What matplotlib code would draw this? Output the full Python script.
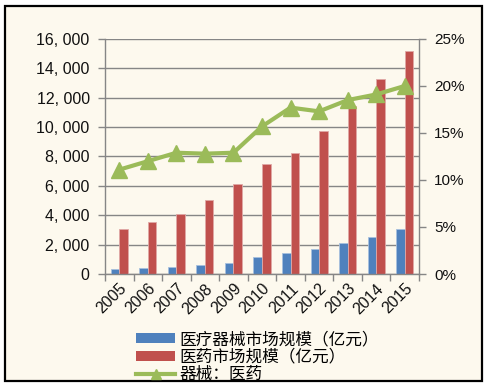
import matplotlib
matplotlib.use("Agg")
import matplotlib.pyplot as plt
from matplotlib.patches import Rectangle, Patch
from matplotlib.lines import Line2D
from matplotlib.ticker import FuncFormatter, FixedLocator
import numpy as np

plt.rcParams['font.family'] = ['Liberation Sans', 'Noto Sans CJK SC', 'DejaVu Sans']

years = ['2005', '2006', '2007', '2008', '2009', '2010', '2011', '2012', '2013', '2014', '2015']
device_market = [330, 400, 510, 620, 780, 1170, 1450, 1670, 2110, 2530, 3040]
pharma_market = [3080, 3520, 4060, 5040, 6130, 7490, 8220, 9740, 11440, 13300, 15180]
ratio_pct = [11.1, 12.0, 12.9, 12.8, 12.9, 15.7, 17.7, 17.3, 18.5, 19.1, 20.0]

label_device = '医疗器械市场规模（亿元）'
label_pharma = '医药市场规模（亿元）'
label_ratio = '器械：医药'

C_BLUE = '#4F81BD'
C_RED = '#C0504D'
C_GREEN = '#9BBB59'
BG = '#FDF9EE'
GRID = '#868686'
TXT = '#111111'

fig = plt.figure(figsize=(4.84, 3.86), dpi=100)
fig.patch.set_facecolor('white')
frame = Rectangle((5/484, 1-381/386), 477/484, 375/386, transform=fig.transFigure,
                  facecolor=BG, edgecolor='black', linewidth=1.6, zorder=-10)
fig.patches.append(frame)

ax = fig.add_axes([105/484, 1-274/386, 314/484, 235/386])
ax.set_facecolor('none')
x = np.arange(len(years))
w = 0.3
ax.bar(x - w/2, device_market, width=w, color=C_BLUE, edgecolor='#A7C0DE', linewidth=0.6, zorder=2)
ax.bar(x + w/2, pharma_market, width=w, color=C_RED, edgecolor='#E0A8A6', linewidth=0.6, zorder=2)
ax.set_xlim(-0.5, len(years) - 0.5)
ax.set_ylim(0, 16000)
ax.set_yticks(np.arange(0, 16001, 2000))
ax.yaxis.set_major_formatter(FuncFormatter(lambda v, p: '0' if v == 0 else f'{int(v):,}'.replace(',', ', ')))
ax.yaxis.grid(True, color=GRID, linewidth=1.0, zorder=1)
ax.set_axisbelow(True)
ax.xaxis.set_major_locator(FixedLocator(np.arange(-0.5, len(years), 1.0)))
ax.xaxis.set_major_formatter(FuncFormatter(lambda v, p: ''))
ax.xaxis.set_minor_locator(FixedLocator(x))
ax.set_xticks(x, minor=True)
ax.set_xticklabels(years, minor=True, rotation=45, ha='right', va='top', rotation_mode='anchor',
                   fontsize=11.5, color=TXT)
ax.tick_params(axis='x', which='minor', length=0, pad=5)
ax.tick_params(axis='x', which='major', length=5, color=GRID, width=1)
ax.tick_params(axis='y', length=5, color=GRID, width=1, labelsize=11.5, labelcolor=TXT, pad=6)
for s in ['top', 'right']:
    ax.spines[s].set_visible(False)
for s in ['left', 'bottom']:
    ax.spines[s].set_color(GRID)
    ax.spines[s].set_linewidth(1)

ax2 = ax.twinx()
ax2.plot(x, ratio_pct, color=C_GREEN, linewidth=3, marker='^', markersize=11, zorder=3)
ax2.set_ylim(0, 25)
ax2.set_yticks(np.arange(0, 26, 5))
ax2.yaxis.set_major_formatter(FuncFormatter(lambda v, p: f'{int(v)}%'))
ax2.tick_params(axis='y', length=5, color=GRID, width=1, labelsize=11, labelcolor=TXT, pad=6)
for s in ['top', 'left', 'bottom']:
    ax2.spines[s].set_visible(False)
ax2.spines['right'].set_color(GRID)
ax2.spines['right'].set_linewidth(1)

handles = [Patch(facecolor=C_BLUE, edgecolor='none'),
           Patch(facecolor=C_RED, edgecolor='none'),
           Line2D([0], [0], color=C_GREEN, linewidth=3, marker='^', markersize=7)]
fig.legend(handles, [label_device, label_pharma, label_ratio], loc='upper left',
           bbox_to_anchor=(128/484, 1-323/386), frameon=False,
           handlelength=2.3, handleheight=0.55, handletextpad=0.3, labelspacing=0.02,
           borderpad=0, prop={'family': ['Noto Sans CJK SC', 'DejaVu Sans'], 'size': 12})

fig.savefig('out.png', dpi=100, facecolor='white')
